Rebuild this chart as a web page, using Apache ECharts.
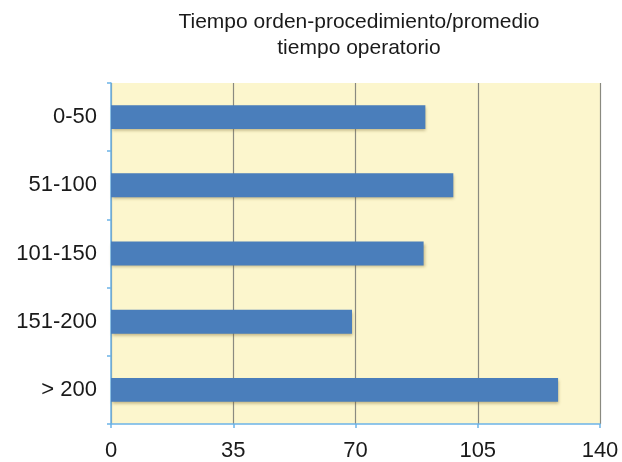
<!DOCTYPE html>
<html>
<head>
<meta charset="utf-8">
<script src="https://cdn.jsdelivr.net/npm/echarts@6/dist/echarts.min.js"></script>
<style>
  html, body { margin: 0; padding: 0; background: #fff; }
  #chart { width: 622px; height: 462px; }
</style>
</head>
<body>
<div id="chart"></div>
<script>
// Categories (top to bottom) and their values
const categories = ['0-50', '51-100', '101-150', '151-200', '> 200'];
const values = [90, 98, 89.5, 69, 128];
const xTicks = [0, 35, 70, 105, 140];
const titleLines = ['Tiempo orden-procedimiento/promedio', 'tiempo operatorio'];

const chart = echarts.init(document.getElementById('chart'));
const font = 'Liberation Sans, Arial, Helvetica, sans-serif';

chart.setOption({
  animation: false,
  title: {
    text: titleLines.join('\n'),
    left: 354,
    textAlign: 'center',
    top: 4,
    textStyle: { fontFamily: font, fontSize: 21, fontWeight: 'normal', color: '#1a1a1a', lineHeight: 26 }
  },
  grid: {
    left: 111, right: 22, top: 83, bottom: 37,
    show: true, backgroundColor: '#FCF6CD', borderWidth: 0
  },
  xAxis: {
    type: 'value',
    min: xTicks[0], max: xTicks[xTicks.length - 1], interval: 35,
    axisLine: { show: true, lineStyle: { color: '#6cb4e8', width: 1.5 } },
    axisTick: { show: true, length: 4, lineStyle: { color: '#6cb4e8', width: 1.5 } },
    axisLabel: { fontFamily: font, fontSize: 22, color: '#1a1a1a', margin: 16 },
    splitLine: { show: true, lineStyle: { color: '#8a8a80', width: 1.2 } }
  },
  yAxis: {
    type: 'category',
    data: categories,
    inverse: true,
    axisLine: { show: true, lineStyle: { color: '#6cb4e8', width: 1.5 } },
    axisTick: { show: true, length: 4, lineStyle: { color: '#6cb4e8', width: 1.5 } },
    axisLabel: { fontFamily: font, fontSize: 22, color: '#1a1a1a', margin: 14, padding: [3, 0, 0, 0] }
  },
  series: [{
    type: 'bar',
    data: values,
    barWidth: '35%',
    itemStyle: {
      color: '#4A7EBB',
      shadowColor: 'rgba(120, 100, 40, 0.45)',
      shadowBlur: 3,
      shadowOffsetX: 1,
      shadowOffsetY: 2
    }
  }]
});
</script>
</body>
</html>
